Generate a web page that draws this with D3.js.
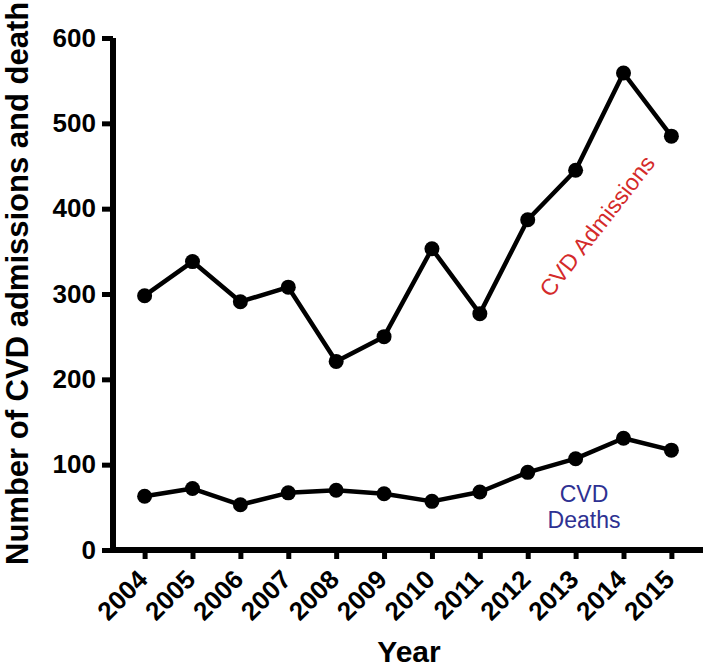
<!DOCTYPE html>
<html>
<head>
<meta charset="utf-8">
<script src="https://cdn.jsdelivr.net/npm/d3@7"></script>
<style>
  html, body { margin: 0; padding: 0; background: #fff; }
  svg { display: block; }
  text { font-family: "Liberation Sans", Arial, Helvetica, sans-serif; }
</style>
</head>
<body>
<script>
const years = ["2004","2005","2006","2007","2008","2009","2010","2011","2012","2013","2014","2015"];
const admissions = [298, 338, 291, 308, 221, 250, 353, 277, 387, 445, 559, 485];
const deaths = [63, 72, 53, 67, 70, 66, 57, 68, 91, 107, 131, 117];
const yTicks = [0, 100, 200, 300, 400, 500, 600];
const yTitle = "Number of CVD admissions and death";
const xTitle = "Year";
const labelAdmissions = "CVD Admissions";
const labelDeaths = ["CVD", "Deaths"];

const W = 709, H = 667;
const svg = d3.select("body").append("svg").attr("width", W).attr("height", H);

const x = d3.scalePoint().domain(years).range([113, 703]).padding(0.66);
const y = d3.scaleLinear().domain([0, 600]).range([550, 38]);

// Y axis
const gy = svg.append("g").attr("transform", "translate(113,0)")
  .call(d3.axisLeft(y).tickValues(yTicks).tickSize(11).tickSizeOuter(0).tickPadding(6));
gy.select(".domain").remove();
gy.selectAll(".tick line").attr("stroke", "#000").attr("stroke-width", 5);
gy.selectAll(".tick text").style("font-size", "26px").style("font-weight", "bold").attr("fill", "#000");

// X axis
const gx = svg.append("g").attr("transform", "translate(0,550)")
  .call(d3.axisBottom(x).tickSize(9).tickSizeOuter(0));
gx.select(".domain").remove();
gx.selectAll(".tick line").attr("stroke", "#000").attr("stroke-width", 5);
gx.selectAll(".tick text")
  .style("font-size", "26px").style("font-weight", "bold").attr("fill", "#000")
  .attr("text-anchor", "end")
  .attr("dy", null)
  .attr("y", null)
  .attr("transform", "translate(4,31) rotate(-45)");

// axis lines
svg.append("line").attr("x1", 113).attr("x2", 113).attr("y1", y(600)).attr("y2", 553)
  .attr("stroke", "#000").attr("stroke-width", 6);
svg.append("line").attr("x1", 110).attr("x2", 703).attr("y1", 550).attr("y2", 550)
  .attr("stroke", "#000").attr("stroke-width", 6);

// series
const line = d3.line().x((d, i) => x(years[i])).y(d => y(d));
[admissions, deaths].forEach(series => {
  svg.append("path").datum(series).attr("d", line)
    .attr("fill", "none").attr("stroke", "#000").attr("stroke-width", 4.5).attr("stroke-linejoin", "round");
  svg.append("g").selectAll("circle").data(series).join("circle")
    .attr("cx", (d, i) => x(years[i])).attr("cy", d => y(d)).attr("r", 7.5).attr("fill", "#000");
});

// titles
svg.append("text").attr("transform", "translate(28,565) rotate(-90)")
  .attr("text-anchor", "start").style("font-size", "31px").style("font-weight", "bold").text(yTitle);
svg.append("text").attr("x", 409).attr("y", 662).attr("text-anchor", "middle")
  .style("font-size", "30px").style("font-weight", "bold").text(xTitle);

// annotations
svg.append("text").attr("transform", "translate(597,226) rotate(-52)")
  .attr("text-anchor", "middle").attr("dy", "0.35em").style("font-size", "23px")
  .attr("fill", "#d42a2a").text(labelAdmissions);
svg.append("text").attr("x", 584).attr("y", 502).attr("text-anchor", "middle")
  .style("font-size", "23px").attr("fill", "#2e3192").text(labelDeaths[0]);
svg.append("text").attr("x", 584).attr("y", 528).attr("text-anchor", "middle")
  .style("font-size", "23px").attr("fill", "#2e3192").text(labelDeaths[1]);
</script>
</body>
</html>
